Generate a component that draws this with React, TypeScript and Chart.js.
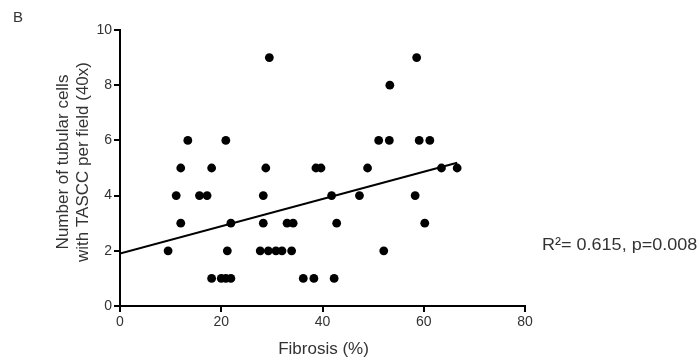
import React, { useEffect, useRef } from "react";
import { Chart, registerables } from "chart.js";

Chart.register(...registerables);

// Data
const fibrosis = [
  9.5, 11.1, 12.0, 12.0, 13.4, 15.7, 17.2, 18.1, 18.1, 20.0, 20.9, 20.9, 21.2, 21.9, 21.9,
  27.7, 28.3, 28.3, 28.8, 29.3, 29.5, 30.8, 32.0, 33.0, 33.9, 34.2, 36.2, 38.3, 38.7, 39.7,
  41.8, 42.3, 42.8, 47.3, 48.9, 51.1, 52.1, 53.2, 53.3, 58.3, 58.6, 59.1, 60.2, 61.2, 63.5, 66.6,
];
const tasccCells = [
  2, 4, 5, 3, 6, 4, 4, 5, 1, 1, 6, 1, 2, 3, 1,
  2, 4, 3, 5, 2, 9, 2, 2, 3, 2, 3, 1, 1, 5, 5,
  4, 1, 3, 4, 5, 6, 2, 6, 8, 4, 9, 6, 3, 6, 5, 5,
];
const fitX = [0, 66.6];
const fitY = [1.9, 5.19];

const xTicks = [0, 20, 40, 60, 80];
const yTicks = [0, 2, 4, 6, 8, 10];

const panelLabel = "B";
const yTitleLines = ["Number of tubular cells", "with TASCC per field (40x)"];
const xTitle = "Fibrosis (%)";
const statsText = "R\u00B2= 0.615, p=0.008";

const FONT = "'Liberation Sans', Arial, Helvetica, sans-serif";
const TEXT = "#333333";

const textPlugin = {
  id: "textPlugin",
  afterDraw(chart: any) {
    const ctx = chart.ctx;
    const area = chart.chartArea;
    ctx.save();
    ctx.fillStyle = TEXT;
    // panel label
    ctx.font = `15px ${FONT}`;
    ctx.textAlign = "left";
    ctx.textBaseline = "alphabetic";
    ctx.fillText(panelLabel, 13, 22);
    // y title
    ctx.font = `17px ${FONT}`;
    ctx.textAlign = "center";
    ctx.textBaseline = "middle";
    const cy = (area.top + area.bottom) / 2 - 6;
    ctx.save();
    ctx.translate(63, cy);
    ctx.rotate(-Math.PI / 2);
    ctx.fillText(yTitleLines[0], 0, 0);
    ctx.restore();
    ctx.save();
    ctx.translate(83, cy);
    ctx.rotate(-Math.PI / 2);
    ctx.fillText(yTitleLines[1], 0, 0);
    ctx.restore();
    // x title
    ctx.fillText(xTitle, (area.left + area.right) / 2 + 1, 349);
    // stats
    ctx.textAlign = "left";
    ctx.save();
    ctx.translate(542, 245);
    ctx.scale(1.06, 1);
    ctx.fillText(statsText, 0, 0);
    ctx.restore();
    ctx.restore();
  },
};

export default function App() {
  const ref = useRef<HTMLCanvasElement>(null);
  useEffect(() => {
    if (!ref.current) return;
    const tickFont = { family: FONT, size: 14 };
    const chart = new Chart(ref.current, {
      type: "scatter",
      data: {
        datasets: [
          {
            type: "line",
            data: fitX.map((x, i) => ({ x, y: fitY[i] })),
            borderColor: "#000",
            borderWidth: 2,
            pointRadius: 0,
            fill: false,
            tension: 0,
          } as any,
          {
            type: "scatter",
            data: fibrosis.map((x, i) => ({ x, y: tasccCells[i] })),
            backgroundColor: "#000",
            borderColor: "#000",
            pointRadius: 4.4,
            borderWidth: 0,
          },
        ],
      },
      options: {
        responsive: false,
        animation: false,
        events: [],
        layout: { padding: { left: 0, top: 30, right: 174, bottom: 0 } },
        plugins: { legend: { display: false }, tooltip: { enabled: false } },
        scales: {
          x: {
            type: "linear",
            min: 0,
            max: 80,
            afterBuildTicks: (s: any) => {
              s.ticks = xTicks.map((v) => ({ value: v }));
            },
            afterFit: (s: any) => {
              s.height = 54;
            },
            ticks: { font: tickFont, color: TEXT, padding: 2 },
            grid: {
              drawOnChartArea: false,
              drawTicks: true,
              tickLength: 6,
              color: "#000",
              lineWidth: 2,
            },
            border: { display: true, color: "#000", width: 2 },
          },
          y: {
            type: "linear",
            min: 0,
            max: 10,
            afterBuildTicks: (s: any) => {
              s.ticks = yTicks.map((v) => ({ value: v }));
            },
            afterFit: (s: any) => {
              s.width = 120;
            },
            ticks: { font: tickFont, color: TEXT, padding: 2 },
            grid: {
              drawOnChartArea: false,
              drawTicks: true,
              tickLength: 6,
              color: "#000",
              lineWidth: 2,
            },
            border: { display: true, color: "#000", width: 2 },
          },
        },
      },
      plugins: [textPlugin],
    });
    return () => chart.destroy();
  }, []);
  return (
    <div style={{ position: "fixed", left: 0, top: 0, width: 699, height: 360, background: "#fff" }}>
      <canvas ref={ref} width={699} height={360} style={{ width: 699, height: 360, display: "block" }} />
    </div>
  );
}
